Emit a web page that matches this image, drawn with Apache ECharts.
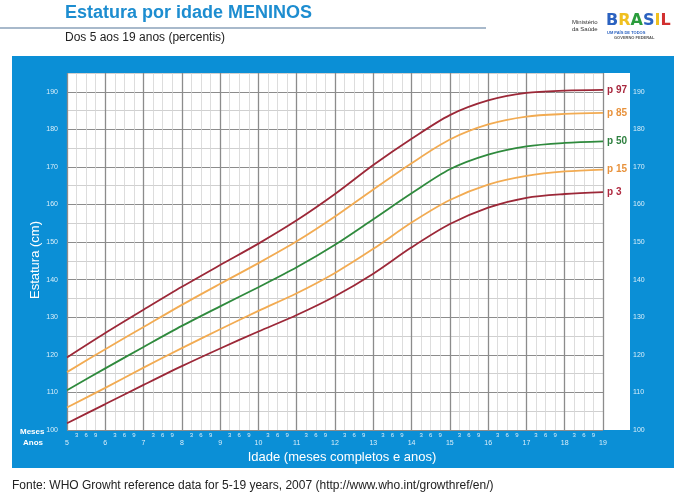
<!DOCTYPE html>
<html>
<head>
<meta charset="utf-8">
<script src="https://cdn.jsdelivr.net/npm/echarts@6/dist/echarts.min.js"></script>
<style>
html, body { margin: 0; padding: 0; background: #fff; }
#main { width: 684px; height: 500px; }
</style>
</head>
<body>
<div id="main"></div>
<script>
// idade em anos
var ages = [5, 6, 7, 8, 9, 10, 11, 12, 13, 14, 15, 16, 17, 18, 19];
// percentis de estatura (cm)
var p3  = [101.8, 106.9, 112.0, 117.0, 121.7, 126.2, 130.6, 135.6, 141.6, 148.6, 154.8, 159.2, 161.8, 162.8, 163.3];
var p15 = [106.0, 111.2, 116.6, 121.8, 126.8, 131.7, 136.4, 141.8, 148.2, 155.2, 161.2, 165.3, 167.6, 168.8, 169.3];
var p50 = [110.6, 116.4, 122.1, 127.7, 132.9, 138.0, 143.3, 149.3, 156.1, 163.0, 169.4, 173.3, 175.5, 176.4, 176.8];
var p85 = [115.4, 121.5, 127.4, 133.3, 138.9, 144.4, 150.2, 156.8, 164.0, 171.0, 177.3, 181.3, 183.4, 184.1, 184.4];
var p97 = [119.3, 125.8, 132.0, 138.1, 143.9, 149.6, 155.8, 162.8, 170.5, 177.5, 183.8, 187.7, 189.7, 190.3, 190.5];

var names = ['p 3', 'p 15', 'p 50', 'p 85', 'p 97'];
var lineColors = ['#9c2838', '#f2ab52', '#2f8a3d', '#f2ab52', '#9c2838'];
var labelColors = ['#b02a40', '#e8923c', '#2f8040', '#e8923c', '#a8283e'];

var blue = '#0b8fd6';
var myChart = echarts.init(document.getElementById('main'));

var all = [p3, p15, p50, p85, p97];
var series = all.map(function (vals, i) {
    return {
        name: names[i],
        type: 'line',
        xAxisIndex: 1,
        yAxisIndex: 0,
        smooth: 0.3,
        symbol: 'none',
        lineStyle: { color: lineColors[i], width: 1.8 },
        endLabel: {
            show: true,
            formatter: names[i],
            color: labelColors[i],
            fontSize: 10,
            fontWeight: 'bold',
            fontFamily: 'Liberation Sans',
            distance: 4
        },
        data: ages.map(function (a, k) { return [a, vals[k]]; }),
        z: 3
    };
});

option = {
    backgroundColor: '#fff',
    animation: false,
    textStyle: { fontFamily: 'Liberation Sans' },
    grid: { left: 67, top: 73, width: 536, height: 357 },
    xAxis: [
        {   // meses (3, 6, 9)
            type: 'value',
            min: 5,
            max: 19,
            interval: 0.25,
            position: 'bottom',
            axisLine: { show: false },
            axisTick: { show: false },
            axisLabel: {
                color: 'rgba(255,255,255,0.85)',
                fontSize: 6,
                margin: 2,
                formatter: function (v) {
                    var m = Math.round((v - Math.floor(v)) * 12);
                    return m ? String(m) : '';
                }
            },
            splitLine: { show: true, lineStyle: { color: '#d4d4d4', width: 0.8 } }
        },
        {   // anos
            type: 'value',
            min: 5,
            max: 19,
            interval: 1,
            position: 'bottom',
            z: 1,
            axisLine: { show: false },
            axisTick: { show: false },
            axisLabel: { color: 'rgba(255,255,255,0.85)', fontSize: 7, margin: 10 },
            splitLine: { show: true, lineStyle: { color: '#8c8c8c', width: 1.3 } }
        }
    ],
    yAxis: [
        {
            type: 'value',
            position: 'left',
            min: 100,
            max: 195,
            interval: 5,
            axisLine: { show: false },
            axisTick: { show: false },
            axisLabel: {
                color: 'rgba(255,255,255,0.85)',
                fontSize: 7,
                margin: 9,
                formatter: function (v) { return v % 10 === 0 ? v : ''; }
            },
            splitLine: { show: true, lineStyle: { color: ['#8c8c8c', '#d0d0d0'], width: 1 } }
        },
        {
            type: 'value',
            position: 'right',
            min: 100,
            max: 195,
            interval: 5,
            axisLine: { show: false },
            axisTick: { show: false },
            axisLabel: {
                color: 'rgba(255,255,255,0.85)',
                fontSize: 7,
                margin: 30,
                formatter: function (v) { return v % 10 === 0 ? v : ''; }
            },
            splitLine: { show: false }
        }
    ],
    graphic: [
        { type: 'rect', z: -20, shape: { x: 12, y: 56, width: 662, height: 412 }, style: { fill: blue } },
        { type: 'rect', z: -10, shape: { x: 67, y: 73, width: 563, height: 357 }, style: { fill: '#fff' } },
        { type: 'text', left: 65, top: 4, style: { text: 'Estatura por idade MENINOS', fill: '#1d8dd0', font: 'bold 18px "Liberation Sans"' } },
        { type: 'line', shape: { x1: 0, y1: 28, x2: 486, y2: 28 }, style: { stroke: '#8ba2ba', lineWidth: 1.5 } },
        { type: 'text', left: 65, top: 32, style: { text: 'Dos 5 aos 19 anos (percentis)', fill: '#222', font: '12px "Liberation Sans"' } },
        { type: 'text', left: 572, top: 19, style: { text: 'Ministério\nda Saúde', fill: '#333', font: '6px "Liberation Sans"', align: 'right', lineHeight: 7, x: 30 } },
        {
            type: 'text', left: 606, top: 13,
            style: {
                text: '{b|B}{r|R}{a|A}{s|S}{i|I}{l|L}',
                rich: {
                    b: { fill: '#2b62c0', font: 'bold 16px "DejaVu Sans"' },
                    r: { fill: '#f0c020', font: 'bold 16px "DejaVu Sans"' },
                    a: { fill: '#2a9c3c', font: 'bold 16px "DejaVu Sans"' },
                    s: { fill: '#2b62c0', font: 'bold 16px "DejaVu Sans"' },
                    i: { fill: '#f0c020', font: 'bold 16px "DejaVu Sans"' },
                    l: { fill: '#d23030', font: 'bold 16px "DejaVu Sans"' }
                }
            }
        },
        { type: 'text', left: 607, top: 31, style: { text: 'UM PAÍS DE TODOS', fill: '#2b62c0', font: 'bold 4px "Liberation Sans"' } },
        { type: 'text', left: 614, top: 36, style: { text: 'GOVERNO FEDERAL', fill: '#555', font: 'bold 4px "Liberation Sans"' } },
        { type: 'text', left: 20, top: 428, style: { text: 'Meses', fill: '#fff', font: 'bold 8px "Liberation Sans"' } },
        { type: 'text', left: 23, top: 439, style: { text: 'Anos', fill: '#fff', font: 'bold 8px "Liberation Sans"' } },
        { type: 'text', x: 35, y: 260, rotation: Math.PI / 2, style: { text: 'Estatura (cm)', fill: '#fff', font: '13px "Liberation Sans"', align: 'center', verticalAlign: 'middle' } },
        { type: 'text', x: 342, y: 457, style: { text: 'Idade (meses completos e anos)', fill: '#fff', font: '13px "Liberation Sans"', align: 'center', verticalAlign: 'middle' } },
        { type: 'text', left: 12, top: 480, style: { text: 'Fonte: WHO Growht reference data for 5-19 years, 2007 (http://www.who.int/growthref/en/)', fill: '#222', font: '12px "Liberation Sans"' } }
    ],
    series: series
};
myChart.setOption(option);
</script>
</body>
</html>
